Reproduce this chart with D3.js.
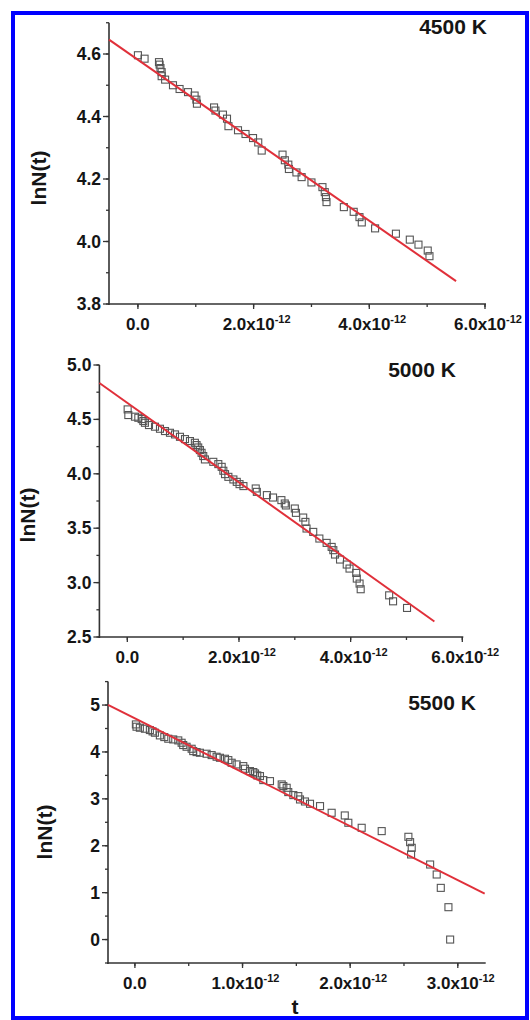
<!DOCTYPE html>
<head>
  <meta charset="utf-8">
  <script src="https://d3js.org/d3.v7.min.js"></script>
  <style>
    body { margin:0; background:#fff; }
    text { font-family: "Liberation Sans", Arial, sans-serif; font-weight: bold; fill: #151515; }
  </style>
</head>
<body>
<script>
// time in units of 1e-12 s, values are lnN(t)
var t4500 = [0, 0.115, 0.364, 0.375, 0.39, 0.41, 0.41, 0.47, 0.606, 0.72, 0.866, 0.98, 1.01, 1.02,
  1.316, 1.34, 1.47, 1.54, 1.565, 1.73, 1.86, 1.99, 2.08, 2.14, 2.50, 2.54, 2.60, 2.61, 2.74, 2.83,
  3.00, 3.19, 3.23, 3.25, 3.26, 3.56, 3.73, 3.83, 3.87, 4.10, 4.46, 4.70, 4.85, 5.01, 5.04];
var y4500 = [4.596, 4.585, 4.574, 4.566, 4.555, 4.542, 4.529, 4.518, 4.50, 4.488, 4.478, 4.467, 4.454, 4.441,
  4.429, 4.419, 4.406, 4.393, 4.369, 4.356, 4.344, 4.331, 4.317, 4.291, 4.278, 4.26, 4.246, 4.232, 4.221, 4.206,
  4.189, 4.174, 4.158, 4.142, 4.126, 4.110, 4.095, 4.078, 4.061, 4.042, 4.025, 4.006, 3.990, 3.971, 3.953];

var t5000 = [0.006, 0.018, 0.137, 0.197, 0.257, 0.287, 0.316, 0.388, 0.496, 0.585, 0.675, 0.764, 0.854, 0.943,
  1.033, 1.122, 1.21, 1.24, 1.27, 1.30, 1.33, 1.36, 1.39, 1.54, 1.63, 1.69, 1.72, 1.75, 1.81, 1.90, 1.96,
  2.01, 2.08, 2.30, 2.32, 2.50, 2.61, 2.76, 2.82, 2.84, 3.00, 3.02, 3.15, 3.19, 3.21, 3.33, 3.44, 3.57,
  3.66, 3.69, 3.72, 3.81, 3.93, 3.98, 4.10, 4.11, 4.16, 4.18, 4.69, 4.76, 5.01];
var y5000 = [4.592, 4.540, 4.525, 4.515, 4.503, 4.485, 4.469, 4.448, 4.433, 4.414, 4.393, 4.377, 4.362, 4.340,
  4.319, 4.301, 4.285, 4.264, 4.242, 4.218, 4.193, 4.163, 4.132, 4.11, 4.089, 4.064, 4.028, 3.997, 3.972, 3.948, 3.926,
  3.905, 3.887, 3.865, 3.834, 3.804, 3.782, 3.758, 3.727, 3.709, 3.681, 3.641, 3.598, 3.558, 3.497, 3.466, 3.405, 3.365,
  3.328, 3.298, 3.258, 3.212, 3.166, 3.129, 3.089, 3.037, 2.991, 2.939, 2.883, 2.828, 2.767];

var t5500 = [0.009, 0.015, 0.046, 0.093, 0.139, 0.164, 0.186, 0.232, 0.273, 0.31, 0.356, 0.403, 0.434, 0.449,
  0.48, 0.527, 0.542, 0.573, 0.604, 0.666, 0.713, 0.759, 0.79, 0.837, 0.868, 0.899, 0.945, 1.007, 1.023,
  1.069, 1.1, 1.116, 1.137, 1.162, 1.193, 1.255, 1.364, 1.379, 1.41, 1.425, 1.472, 1.518, 1.534, 1.58,
  1.627, 1.72, 1.828, 1.95, 1.983, 2.107, 2.293, 2.541, 2.557, 2.572, 2.566, 2.743, 2.804, 2.842, 2.913, 2.929];
var y5500 = [4.587, 4.538, 4.516, 4.495, 4.467, 4.438, 4.41, 4.353, 4.317, 4.282, 4.267, 4.246, 4.196, 4.147,
  4.111, 4.068, 4.018, 3.997, 3.983, 3.962, 3.933, 3.898, 3.876, 3.855, 3.826, 3.770, 3.734, 3.698, 3.642,
  3.592, 3.571, 3.542, 3.5, 3.485, 3.400, 3.378, 3.307, 3.272, 3.236, 3.144, 3.08, 3.058, 2.987, 2.944,
  2.895, 2.845, 2.703, 2.646, 2.49, 2.383, 2.312, 2.191, 2.077, 1.956, 1.814, 1.60, 1.387, 1.102, 0.69, 0.0];

// linear fit end points [t, lnN]
var fit4500 = [[-0.5, 4.646], [5.5, 3.873]];
var fit5000 = [[-0.5, 4.835], [5.5, 2.642]];
var fit5500 = [[-0.25, 5.006], [3.25, 0.977]];

var titles = ["4500 K", "5000 K", "5500 K"];
var xTicks12 = [0, 2, 4, 6];
var xTicks3 = [0, 1, 2, 3];
var yTicks1 = [3.8, 4.0, 4.2, 4.4, 4.6];
var yTicks2 = [2.5, 3.0, 3.5, 4.0, 4.5, 5.0];
var yTicks3 = [0, 1, 2, 3, 4, 5];

var W = 530, H = 1020;
var svg = d3.select("body").append("svg")
  .attr("width", W)
  .attr("height", H);

var panels = [
  { t: t4500, y: y4500, fit: fit4500, title: titles[0],
    xdom: [-0.5, 6], xr: [109, 485], ydom: [3.8, 4.7], yr: [304, 22.75],
    xt: xTicks12, xminor: 1, yt: yTicks1, yminor: 0.1, yfmt: ".1f",
    titleXY: [453, 34], ylabXY: [39, 178] },
  { t: t5000, y: y5000, fit: fit5000, title: titles[1],
    xdom: [-0.5, 6], xr: [99.4, 462.3], ydom: [2.5, 5.0], yr: [637, 365],
    xt: xTicks12, xminor: 1, yt: yTicks2, yminor: 0.25, yfmt: ".1f",
    titleXY: [422, 377], ylabXY: [28, 515] },
  { t: t5500, y: y5500, fit: fit5500, title: titles[2],
    xdom: [-0.25, 3.25], xr: [108, 484.7], ydom: [-0.5, 5.5], yr: [963, 681.6],
    xt: xTicks3, xminor: 0.5, yt: yTicks3, yminor: 0.5, yfmt: "d",
    titleXY: [442, 710], ylabXY: [45, 832] }
];

panels.forEach(function(p, idx) {
  var x = d3.scaleLinear().domain(p.xdom).range(p.xr);
  var y = d3.scaleLinear().domain(p.ydom).range(p.yr);
  var g = svg.append("g").attr("class", "panel" + idx);

  // minor ticks
  var xminors = d3.range(Math.ceil(p.xdom[0] / p.xminor) * p.xminor, p.xdom[1] + 1e-9, p.xminor);
  var yminors = d3.range(Math.ceil(p.ydom[0] / p.yminor - 1e-9) * p.yminor, p.ydom[1] + 1e-9, p.yminor);

  var xAxis = g.append("g").attr("transform", "translate(0," + p.yr[0] + ")");
  xAxis.append("line").attr("x1", p.xr[0] - 1).attr("x2", p.xr[1] + 1)
    .attr("stroke", "#333").attr("stroke-width", 1.6);
  xAxis.selectAll(".mx").data(xminors).enter().append("line")
    .attr("x1", function(d){ return x(d); }).attr("x2", function(d){ return x(d); })
    .attr("y1", 0).attr("y2", 3).attr("stroke", "#333").attr("stroke-width", 1.3);
  xAxis.selectAll(".Mx").data(p.xt).enter().append("line")
    .attr("x1", function(d){ return x(d); }).attr("x2", function(d){ return x(d); })
    .attr("y1", 0).attr("y2", 5).attr("stroke", "#333").attr("stroke-width", 1.3);
  var xl = xAxis.selectAll(".xl").data(p.xt).enter().append("text")
    .attr("x", function(d){ return x(d) + (d === 0 ? 0 : 3); }).attr("y", 26)
    .attr("text-anchor", "middle").style("font-size", "17px");
  xl.each(function(d) {
    var s = d3.select(this);
    if (d === 0) { s.text("0.0"); return; }
    s.append("tspan").text(d.toFixed(1) + "x10");
    s.append("tspan").attr("dy", -7).style("font-size", "11px").text("-12");
  });

  var yAxis = g.append("g").attr("transform", "translate(" + p.xr[0] + ",0)");
  yAxis.append("line").attr("y1", p.yr[0] + 1).attr("y2", p.yr[1])
    .attr("stroke", "#333").attr("stroke-width", 1.6);
  yAxis.selectAll(".my").data(yminors).enter().append("line")
    .attr("y1", function(d){ return y(d); }).attr("y2", function(d){ return y(d); })
    .attr("x1", 0).attr("x2", -3).attr("stroke", "#333").attr("stroke-width", 1.3);
  yAxis.selectAll(".My").data(p.yt).enter().append("line")
    .attr("y1", function(d){ return y(d); }).attr("y2", function(d){ return y(d); })
    .attr("x1", 0).attr("x2", -6).attr("stroke", "#333").attr("stroke-width", 1.3);
  yAxis.selectAll(".yl").data(p.yt).enter().append("text")
    .attr("x", -8).attr("y", function(d){ return y(d) + 6; })
    .attr("text-anchor", "end").style("font-size", "17.5px")
    .text(function(d){ return d3.format(p.yfmt)(d); });

  // markers
  g.selectAll(".pt").data(p.t).enter().append("rect")
    .attr("x", function(d){ return x(d) - 3.5; })
    .attr("y", function(d, i){ return y(p.y[i]) - 3.5; })
    .attr("width", 7).attr("height", 7)
    .attr("fill", "none").attr("stroke", "#555").attr("stroke-width", 1.1);

  // fit line
  g.append("path").datum(p.fit)
    .attr("d", d3.line().x(function(d){ return x(d[0]); }).y(function(d){ return y(d[1]); }))
    .attr("stroke", "#e0303a").attr("stroke-width", 2).attr("fill", "none");

  g.append("text").attr("x", p.titleXY[0]).attr("y", p.titleXY[1])
    .attr("text-anchor", "middle").style("font-size", "21px").text(p.title);

  g.append("text")
    .attr("transform", "translate(" + (p.ylabXY[0] + 7) + "," + p.ylabXY[1] + ") rotate(-90)")
    .attr("text-anchor", "middle").style("font-size", "21px").text("lnN(t)");
});

svg.append("text").attr("x", 295).attr("y", 1014)
  .attr("text-anchor", "middle").style("font-size", "21px").text("t");

// outer frame
svg.append("rect").attr("x", 13).attr("y", 13).attr("width", 514).attr("height", 1005)
  .attr("fill", "none").attr("stroke", "#0000ff").attr("stroke-width", 4);
</script>
</body>
